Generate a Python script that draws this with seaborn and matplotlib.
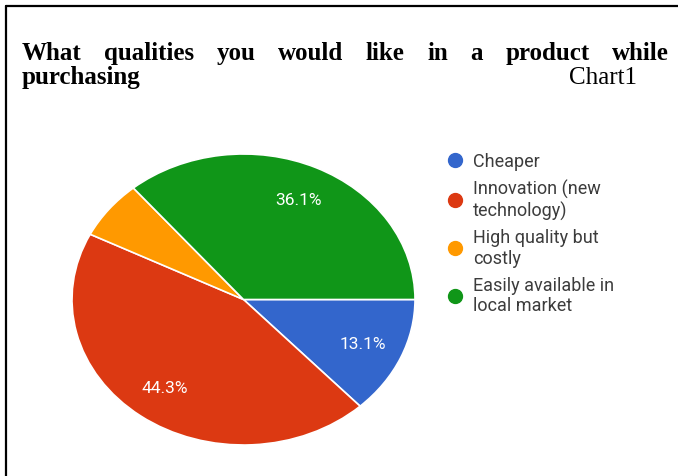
import matplotlib
matplotlib.use("Agg")
import matplotlib.pyplot as plt
from matplotlib.lines import Line2D
import seaborn as sns

categories = ["Cheaper", "Innovation (new\ntechnology)", "High quality but\ncostly",
              "Easily available in\nlocal market"]
values = [13.1, 44.3, 6.5, 36.1]
colors = ["#3366CC", "#DC3912", "#FF9900", "#109618"]
title_line1 = "What qualities you would like in a product while"
title_line2 = "purchasing"
chart_tag = "Chart1"

sns.set_theme(style="white")
plt.rcParams["font.family"] = ["Roboto", "DejaVu Sans"]

W, H = 678, 477
fig = plt.figure(figsize=(W / 100, H / 100), dpi=100)
fig.patch.set_facecolor("white")

def fx(px):
    return px / W

def fy(py):
    return 1 - py / H

# border (left and top visible)
fig.add_artist(Line2D([fx(6), fx(6)], [fy(7), 0], color="black", lw=1.6,
                      transform=fig.transFigure))
fig.add_artist(Line2D([fx(6), 1], [fy(7), fy(7)], color="black", lw=1.6,
                      transform=fig.transFigure))

# pie axes (elliptical)
left, right, top, bottom = 72, 415, 155, 446
ax = fig.add_axes([fx(left), fy(bottom), (right - left) / W, (bottom - top) / H])
wedges, texts, autotexts = ax.pie(
    values, colors=colors, startangle=0, counterclock=False,
    autopct=lambda p: f"{p:.1f}%" if p > 10 else "", pctdistance=0.76,
    wedgeprops=dict(edgecolor="white", linewidth=1.2),
    textprops=dict(color="white", fontsize=12.5),
)
ax.set_aspect("auto")
ax.set_xlim(-1, 1)
ax.set_ylim(-1, 1)
ax.axis("off")

# legend
handles = [Line2D([0], [0], marker="o", linestyle="", markersize=10,
                  markerfacecolor=c, markeredgecolor=c) for c in colors]
leg = fig.legend(handles, categories, loc="upper left",
                 bbox_to_anchor=(fx(448), fy(153)), frameon=False,
                 fontsize=13, handlelength=0.8, handletextpad=0.6,
                 labelspacing=0.47, borderaxespad=0, borderpad=0)
for t in leg.get_texts():
    t.set_color("#3c3c3c")

# title (justified first line)
fig.canvas.draw()
renderer = fig.canvas.get_renderer()
words = title_line1.split(" ")
tprops = dict(family=["Liberation Serif", "DejaVu Serif"], fontweight="bold",
              fontsize=18, color="black", va="baseline")
x_start, x_end = 22, 669
y1, y2 = 60, 84
objs = []
for w in words:
    t = fig.text(0, fy(y1), w, **tprops)
    objs.append(t)
widths = [t.get_window_extent(renderer).width for t in objs]
gap = ((x_end - x_start) - sum(widths)) / (len(words) - 1)
x = x_start
for t, wd in zip(objs, widths):
    t.set_x(fx(x))
    x += wd + gap
fig.text(fx(x_start), fy(y2), title_line2, **tprops)
fig.text(fx(637), fy(y2), chart_tag, family=["Liberation Serif", "DejaVu Serif"],
         fontsize=18, color="black", ha="right", va="baseline")

fig.savefig("out.png", dpi=100, facecolor="white")
